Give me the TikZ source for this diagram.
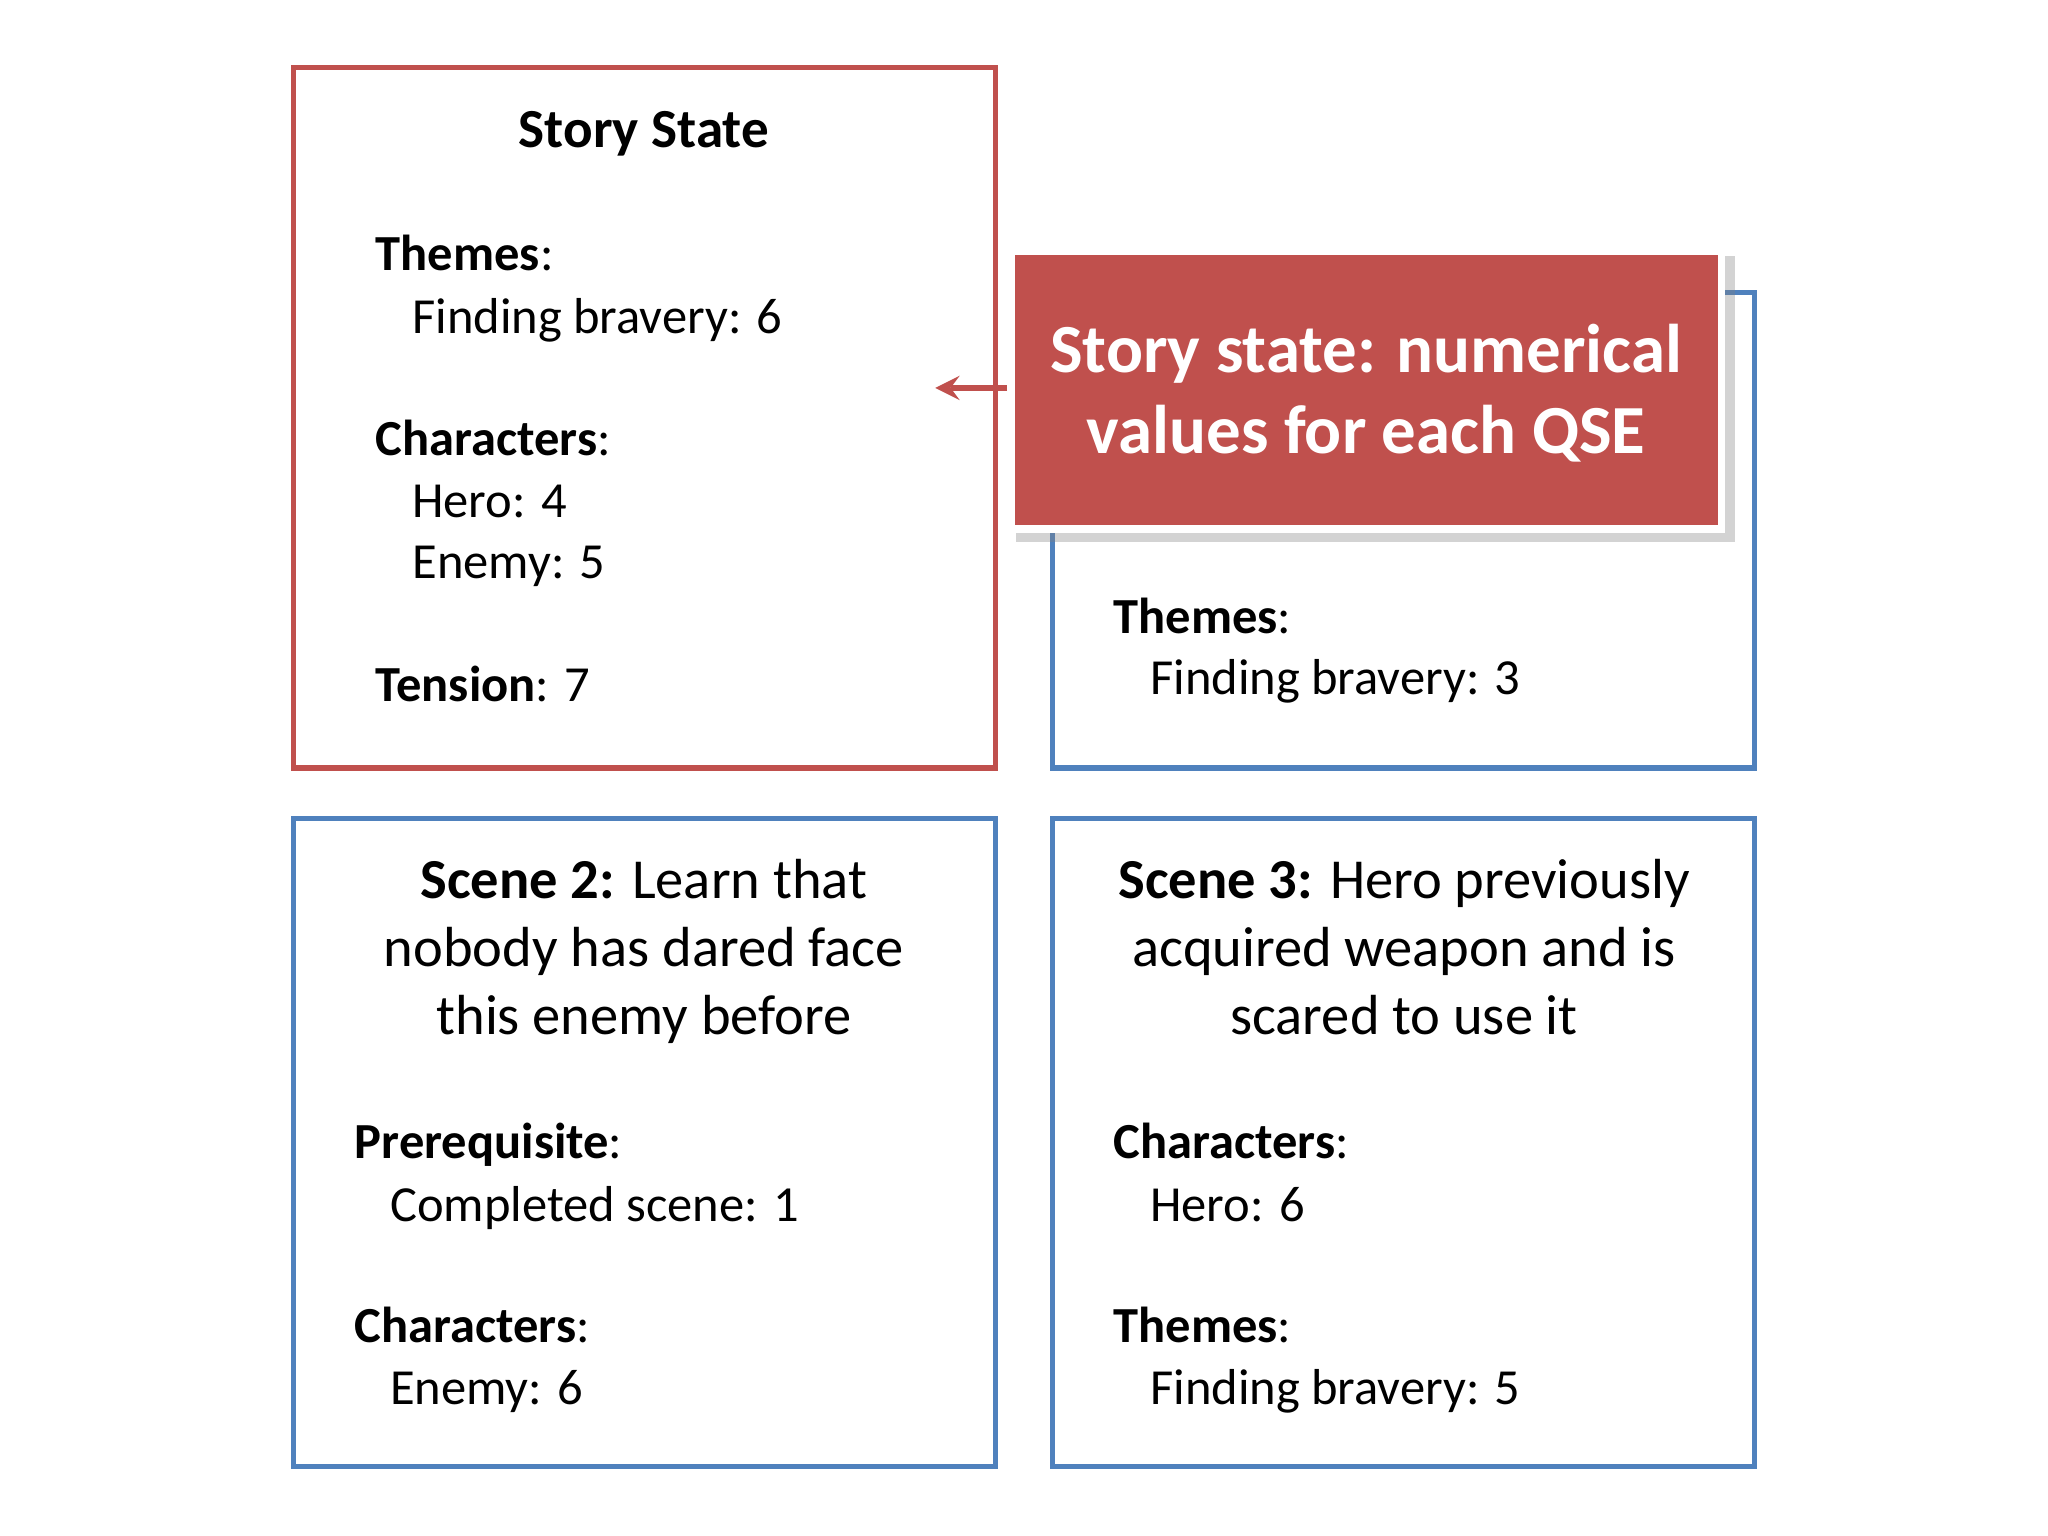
\documentclass[tikz,border=0pt]{standalone}
\usepackage{fontspec}
\setmainfont{Carlito}
\usetikzlibrary{shadows}
\definecolor{rd}{HTML}{C0504D}
\definecolor{bl}{HTML}{4F81BD}
\begin{document}
\begin{tikzpicture}[x=0.01cm,y=-0.01cm,
  rbox/.style={draw=rd,line width=1.1pt},
  bbox/.style={draw=bl,line width=1.1pt},
  t/.style={anchor=base west,inner sep=0pt,font=\fontsize{11}{13}\selectfont},
  c/.style={anchor=base,inner sep=0pt,font=\fontsize{12.3}{14.8}\selectfont}]
\useasboundingbox (0,0) rectangle (1568,1176);
% boxes
\draw[rbox] (225,52) rectangle (762,588);
\draw[bbox] (806,224) rectangle (1343,588);
\draw[bbox] (225,627) rectangle (762,1123);
\draw[bbox] (806,627) rectangle (1343,1123);
% story state
\node[c,font=\fontsize{12}{14}\selectfont\bfseries] (ss) at (493,113) {Story State};
\node[t] (a1) at (287,207) {\textbf{Themes}:};
\node[t] (a2) at (315,255) {Finding bravery: 6};
\node[t] (a3) at (287,349) {\textbf{Characters}:};
\node[t] (a4) at (315,396) {Hero: 4};
\node[t] (a5) at (315,443) {Enemy: 5};
\node[t] (a6) at (287,537) {\textbf{Tension}: 7};
% top right
\node[t] (b1) at (852,485) {\textbf{Themes}:};
\node[t] (b2) at (880,532) {Finding bravery: 3};
% scene 2
\node[c] (s21) at (493,688) {\textbf{Scene 2:} Learn that};
\node[c] (s22) at (493,740) {nobody has dared face};
\node[c] (s23) at (493,792) {this enemy before};
\node[t] (c1) at (271,887) {\textbf{Prerequisite}:};
\node[t] (c2) at (298,935) {Completed scene: 1};
\node[t] (c3) at (271,1028) {\textbf{Characters}:};
\node[t] (c4) at (298,1075) {Enemy: 6};
% scene 3
\node[c] (s31) at (1075,688) {\textbf{Scene 3:} Hero previously};
\node[c] (s32) at (1075,740) {acquired weapon and is};
\node[c] (s33) at (1075,792) {scared to use it};
\node[t] (d1) at (852,887) {\textbf{Characters}:};
\node[t] (d2) at (880,935) {Hero: 6};
\node[t] (d3) at (852,1028) {\textbf{Themes}:};
\node[t] (d4) at (880,1075) {Finding bravery: 5};
% callout
\fill[white,drop shadow={opacity=0.35,shadow xshift=2pt,shadow yshift=-2pt}] (771,189) rectangle (1321,408);
\fill[rd] (777,195) rectangle (1315,402);
\node[c,text=white,font=\fontsize{15}{18}\selectfont\bfseries] (co1) at (1046,285) {Story state: numerical};
\node[c,text=white,font=\fontsize{15}{18}\selectfont\bfseries] (co2) at (1046,347) {values for each QSE};
\coordinate (cs) at (771,297);
\coordinate (ce) at (716,297);
\draw[rd,line width=1.3pt,->,>=stealth] (cs) -- (ce);
\end{tikzpicture}
\end{document}
